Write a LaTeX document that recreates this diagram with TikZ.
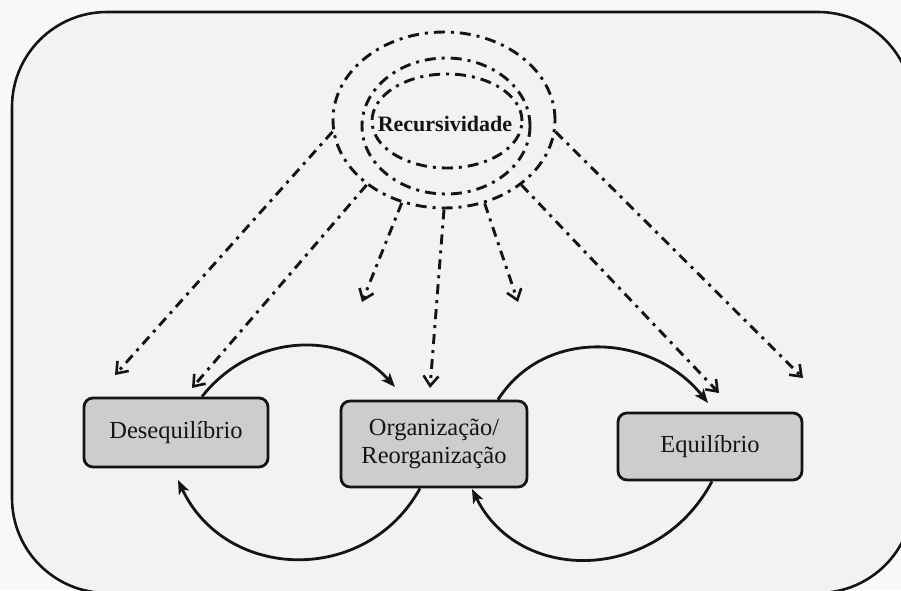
\documentclass[tikz,border=0pt]{standalone}
\usepackage{fontspec}
\setmainfont{Liberation Serif}
\usetikzlibrary{arrows.meta,shapes.geometric}
\definecolor{bgout}{HTML}{F8F8F8}
\definecolor{bgin}{HTML}{F2F2F2}
\definecolor{boxfill}{HTML}{CDCDCD}
\definecolor{ink}{HTML}{141414}
\begin{document}
\begin{tikzpicture}[x=1pt,y=-1pt,
  stepbox/.style={draw=ink, line width=2.8pt, fill=boxfill, rounded corners=9pt, inner sep=0pt, font=\fontsize{24.5}{28}\selectfont, text=ink, align=center},
  dd/.style={draw=ink, line width=2.9pt, dash pattern=on 10pt off 6pt on 3pt off 6pt},
  ddarr/.style={dd, -{Straight Barb[length=10pt,width=15pt,line width=2.6pt]}},
  solidarr/.style={draw=ink, line width=2.8pt, -{Stealth[length=14pt,width=11pt,inset=3.5pt]}},
  ring/.style={ellipse, draw=ink, line width=2.9pt, dash pattern=on 11pt off 6pt on 3pt off 6pt, inner sep=0pt}
]
\useasboundingbox (0,0) rectangle (901,590);
\fill[bgout] (0,0) rectangle (901,590);
\clip (0,0) rectangle (901,590);
\draw[ink, line width=2.6pt, fill=bgin, rounded corners=95pt] (12,12) rectangle (913,593);

\node[ring, minimum width=222pt, minimum height=176pt] (rec) at (444,120) {};
\node[ring, minimum width=168pt, minimum height=136pt] (recm) at (446,126) {};
\node[ring, minimum width=150pt, minimum height=94pt] (reci) at (447,121) {};
\node[font=\fontsize{22}{26}\selectfont\bfseries, text=ink] (lab) at (445,124) {Recursividade};

\node[stepbox, minimum width=184pt, minimum height=69pt] (des) at (176,432.5) {Desequilíbrio};
\node[stepbox, minimum width=186pt, minimum height=86pt] (org) at (434,444) {Organização/\\Reorganização};
\node[stepbox, minimum width=184pt, minimum height=67pt] (equ) at (710,446.5) {Equilíbrio};

\coordinate (ta) at (115,375);
\coordinate (tb) at (192,388);
\coordinate (tc) at (362,302);
\coordinate (td) at (430,388);
\coordinate (te) at (518,302);
\coordinate (tf) at (719,393);
\coordinate (tg) at (803,378);

\draw[ddarr] (rec.186) -- (ta);
\draw[ddarr] (rec.220) -- (tb);
\draw[ddarr] (rec.243) -- (tc);
\draw[ddarr] (rec.270) -- (td);
\draw[ddarr] (rec.296) -- (te);
\draw[ddarr] (rec.320) -- (tf);
\draw[ddarr] (rec.354) -- (tg);

\coordinate (t1) at (395,387);
\coordinate (t2) at (178,480);
\coordinate (t3) at (708,403);
\coordinate (t4) at (472,489);
\draw[solidarr] ([xshift=26pt]des.north) .. controls (252,333) and (343,329) .. (t1);
\draw[solidarr] ([xshift=-14pt]org.south) .. controls (366,586) and (225,581) .. (t2);
\draw[solidarr] ([xshift=64pt]org.north) .. controls (546,325) and (654,335) .. (t3);
\draw[solidarr] ([xshift=2pt]equ.south) .. controls (658,583) and (519,585) .. (t4);
\end{tikzpicture}
\end{document}
